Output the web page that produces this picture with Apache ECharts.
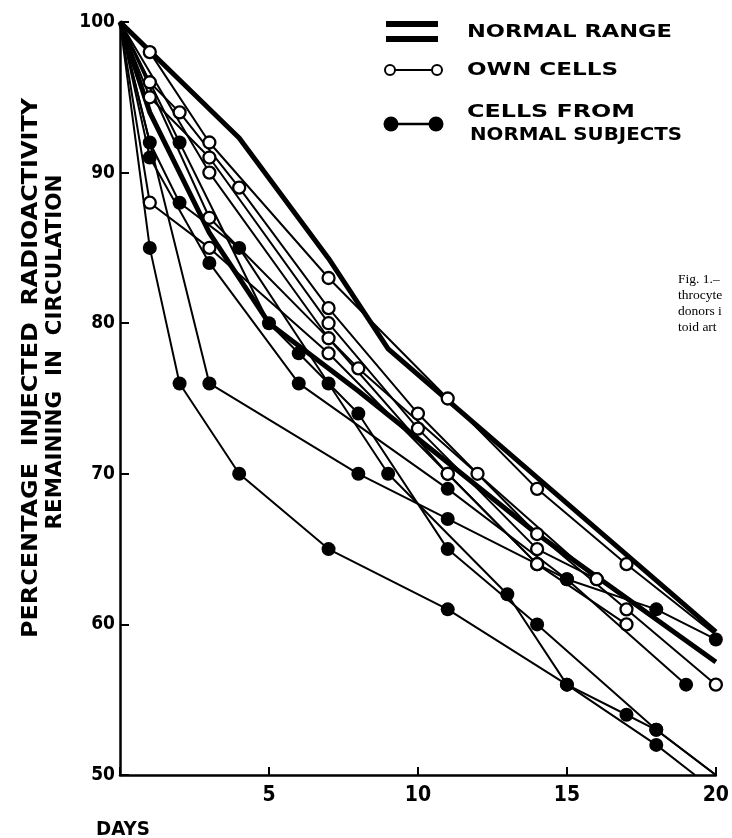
<!DOCTYPE html>
<html>
<head>
<meta charset="utf-8">
<script src="https://cdn.jsdelivr.net/npm/echarts@6/dist/echarts.min.js"></script>
<style>
  html, body { margin: 0; padding: 0; background: #fff; }
  #chart { width: 732px; height: 838px; }
</style>
</head>
<body>
<div id="chart"></div>
<script>
// ---- Data (day, % remaining) ----
const xTicks = [5, 10, 15, 20];
const yTicks = [50, 60, 70, 80, 90, 100];

// Normal range (two bounding curves)
const normalUpper = [[0,100],[4,92.3],[7,84.3],[9,78.3],[20,59.5]];
const normalLower = [[0,100],[1,94],[3,86],[5,80],[8,75.5],[14,66],[20,57.5]];

// Own cells (open circles)
const own1 = [[0,100],[1,98],[3,92],[7,83],[11,75],[14,69],[17,64]];
const own1Tail = [20,59.3];
const own2 = [[0,100],[1,96],[2,94],[4,89],[7,81],[10,74],[14,66],[17,61],[20,56]];
const own3 = [[0,100],[1,95],[3,91],[7,80],[10,73],[14,65],[16,63]];
const own4 = [[0,100],[3,90],[7,79],[11,70],[14,64],[17,60]];
const own5 = [[0,100],[1,88],[3,85],[7,78],[11,70],[14,64]];
const own6 = [[0,100],[3,87],[8,77],[12,70],[16,63]];

// Cells from normal subjects (filled circles)
const donor1 = [[0,100],[1,85],[2,76],[4,70],[7,65],[11,61],[15,56],[18,52]];
const donor1Tail = [19.3,50];
const donor2 = [[0,100],[3,76],[8,70],[11,67],[15,63],[18,61],[20,59]];
const donor3 = [[0,100],[1,91],[3,84],[6,76],[11,69],[15,63],[19,56]];
const donor4 = [[0,100],[2,92],[5,80],[6,78],[8,74],[11,65],[14,60],[18,53]];
const donor4Tail = [20,50];
const donor5 = [[0,100],[1,92],[2,88],[4,85],[7,76],[9,70],[13,62],[15,56],[17,54],[18,53]];
const donor5Tail = [20,50];

const legendTexts = ['NORMAL RANGE', 'OWN CELLS', 'CELLS FROM', 'NORMAL SUBJECTS'];
const yTitle = ['PERCENTAGE  INJECTED  RADIOACTIVITY', 'REMAINING  IN  CIRCULATION'];
const xTitle = 'DAYS';
const captionLines = ['Fig. 1.\u2013', 'throcyte', 'donors i', 'toid art'];

// ---- Build ----
function mk(arr, tail) {
  const d = arr.map((p, i) => i === 0 ? { value: p, symbol: 'none' } : { value: p });
  if (tail) d.push({ value: tail, symbol: 'none' });
  return d;
}
const series = [];
[normalUpper, normalLower].forEach(a => series.push({
  type: 'line', data: a, symbol: 'none', z: 3,
  lineStyle: { color: '#000', width: 5, join: 'round' }
}));
[[own1, own1Tail],[own2],[own3],[own4],[own5],[own6]].forEach(([a, t]) => series.push({
  type: 'line', data: mk(a, t), symbol: 'circle', symbolSize: 12, z: 4,
  lineStyle: { color: '#000', width: 2 },
  itemStyle: { color: '#fff', borderColor: '#000', borderWidth: 2.3 }
}));
[[donor1, donor1Tail],[donor2],[donor3],[donor4, donor4Tail],[donor5, donor5Tail]].forEach(([a, t]) => series.push({
  type: 'line', data: mk(a, t), symbol: 'circle', symbolSize: 14, z: 4,
  lineStyle: { color: '#000', width: 2 },
  itemStyle: { color: '#000', borderColor: '#000', borderWidth: 0 }
}));

const ctx = document.createElement('canvas').getContext('2d');
function widthOf(text, font) { ctx.font = font; return ctx.measureText(text).width; }

const headFont = 'bold 18px "DejaVu Sans", sans-serif';
const legWidths = [205, 151, 168, 212];
const graphics = [];
// legend bars
graphics.push({ type: 'rect', shape: { x: 386, y: 21, width: 52, height: 6 }, style: { fill: '#000' } });
graphics.push({ type: 'rect', shape: { x: 386, y: 36, width: 52, height: 6 }, style: { fill: '#000' } });
// open legend
graphics.push({ type: 'line', shape: { x1: 388, y1: 70, x2: 438, y2: 70 }, style: { stroke: '#000', lineWidth: 1.8 } });
graphics.push({ type: 'circle', shape: { cx: 390, cy: 70, r: 5 }, style: { fill: '#fff', stroke: '#000', lineWidth: 2 } });
graphics.push({ type: 'circle', shape: { cx: 437, cy: 70, r: 5 }, style: { fill: '#fff', stroke: '#000', lineWidth: 2 } });
// filled legend
graphics.push({ type: 'line', shape: { x1: 390, y1: 124, x2: 436, y2: 124 }, style: { stroke: '#000', lineWidth: 2.5 } });
graphics.push({ type: 'circle', shape: { cx: 391, cy: 124, r: 7.5 }, style: { fill: '#000' } });
graphics.push({ type: 'circle', shape: { cx: 436, cy: 124, r: 7.5 }, style: { fill: '#000' } });
const legendPos = [[467, 32], [467, 70], [467, 112], [470, 135]];
legendTexts.forEach((t, i) => graphics.push({
  type: 'text', x: legendPos[i][0], y: legendPos[i][1], scaleX: legWidths[i] / widthOf(t, headFont),
  style: { text: t, font: headFont, fill: '#000', textVerticalAlign: 'middle', textAlign: 'left' }
}));
// y title
const titleFont = 'bold 22px "DejaVu Sans", sans-serif';
graphics.push({ type: 'text', x: 31, y: 368, rotation: Math.PI / 2,
  scaleX: 540 / widthOf(yTitle[0], titleFont),
  style: { text: yTitle[0], font: titleFont, fill: '#000', textAlign: 'center', textVerticalAlign: 'middle' } });
graphics.push({ type: 'text', x: 55, y: 352, rotation: Math.PI / 2,
  scaleX: 355 / widthOf(yTitle[1], titleFont),
  style: { text: yTitle[1], font: titleFont, fill: '#000', textAlign: 'center', textVerticalAlign: 'middle' } });
// x title
const daysFont = 'bold 20px "DejaVu Sans", sans-serif';
graphics.push({ type: 'text', x: 96, y: 830, scaleX: 54 / widthOf(xTitle, daysFont),
  style: { text: xTitle, font: daysFont, fill: '#000', textAlign: 'left', textVerticalAlign: 'middle' } });
// caption fragment
captionLines.forEach((t, i) => graphics.push({
  type: 'text', x: 678, y: 279 + i * 16,
  style: { text: t, font: '13.5px "Liberation Serif", "DejaVu Serif", serif', fill: '#000', textAlign: 'left', textVerticalAlign: 'middle' }
}));

const axisFont = '"DejaVu Sans Condensed", "Liberation Sans Narrow", "DejaVu Sans", sans-serif';
const chart = echarts.init(document.getElementById('chart'), null, { renderer: 'canvas' });
chart.setOption({
  animation: false,
  backgroundColor: '#fff',
  grid: { left: 120, right: 12, top: 22, bottom: 63 },
  xAxis: {
    type: 'value', min: 0, max: 20, interval: 5,
    axisLine: { lineStyle: { color: '#000', width: 2.5 } },
    axisTick: { inside: true, length: 8, lineStyle: { color: '#000', width: 2 } },
    splitLine: { show: false },
    axisLabel: { color: '#000', fontFamily: axisFont, fontWeight: 'bold', fontSize: 21, margin: 10,
      formatter: v => xTicks.includes(v) ? String(v) : '' }
  },
  yAxis: {
    type: 'value', min: 50, max: 100, interval: 10,
    axisLine: { show: true, lineStyle: { color: '#000', width: 2.5 } },
    axisTick: { show: true, inside: true, length: 9, lineStyle: { color: '#000', width: 2 } },
    splitLine: { show: false },
    axisLabel: { color: '#000', fontFamily: axisFont, fontWeight: 'bold', fontSize: 19, margin: 5,
      formatter: v => yTicks.includes(v) ? String(v) : '' }
  },
  series: series,
  graphic: graphics
});
</script>
</body>
</html>
